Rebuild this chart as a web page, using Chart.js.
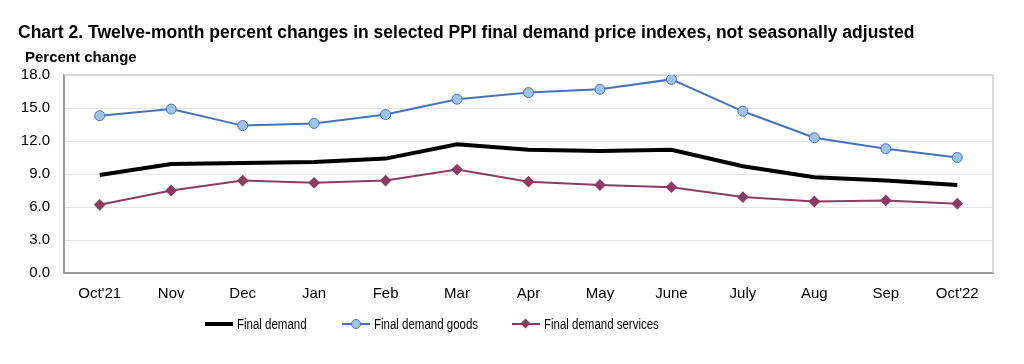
<!DOCTYPE html>
<html>
<head>
<meta charset="utf-8">
<script src="https://cdn.jsdelivr.net/npm/chart.js@4"></script>
<style>
  body { margin: 0; background: #fff; font-family: "Liberation Sans", Arial, sans-serif; color: #000; }
  #wrap { position: relative; width: 1024px; height: 364px; }
  #title { position: absolute; left: 18px; top: 22px; font-weight: bold; font-size: 17.5px; white-space: nowrap; }
  #ytitle { position: absolute; left: 25px; top: 48px; font-weight: bold; font-size: 15px; white-space: nowrap; }
  .leg { position: absolute; top: 316px; height: 16px; font-size: 14px; line-height: 16px; white-space: nowrap; }
  .leg .sample { position: absolute; left: 0; top: 8px; width: 28px; }
  .leg .mk { position: absolute; left: 9px; }
  .leg span.txt { position: absolute; left: 32px; top: 0; transform: scaleX(0.82); transform-origin: left center; }
</style>
</head>
<body>
<div id="wrap">
  <canvas id="ppiChart" width="1024" height="364"></canvas>
  <div id="title">Chart 2. Twelve-month percent changes in selected PPI final demand price indexes, not seasonally adjusted</div>
  <div id="ytitle">Percent change</div>
  <div class="leg" style="left:205px">
    <div class="sample" style="height:4px;margin-top:-2px;background:#000"></div>
    <span class="txt">Final demand</span>
  </div>
  <div class="leg" style="left:342px">
    <div class="sample" style="height:2px;margin-top:-1px;background:#4472c4"></div>
    <div class="mk" style="top:3px;width:8px;height:8px;border:1px solid #4472c4;border-radius:50%;background:#9dc3e6"></div>
    <span class="txt">Final demand goods</span>
  </div>
  <div class="leg" style="left:512px">
    <div class="sample" style="height:2px;margin-top:-1px;background:#8e3b64"></div>
    <div class="mk" style="top:4px;left:10px;width:7px;height:7px;background:#8e3b64;transform:rotate(45deg)"></div>
    <span class="txt">Final demand services</span>
  </div>
</div>
<script>
const months = ["Oct'21", "Nov", "Dec", "Jan", "Feb", "Mar", "Apr", "May", "June", "July", "Aug", "Sep", "Oct'22"];
const finalDemand = [8.9, 9.9, 10.0, 10.1, 10.4, 11.7, 11.2, 11.1, 11.2, 9.7, 8.7, 8.4, 8.0];
const finalGoods = [14.3, 14.9, 13.4, 13.6, 14.4, 15.8, 16.4, 16.7, 17.6, 14.7, 12.3, 11.3, 10.5];
const finalServices = [6.2, 7.5, 8.4, 8.2, 8.4, 9.4, 8.3, 8.0, 7.8, 6.9, 6.5, 6.6, 6.3];
const yMin = 0, yMax = 18, yStep = 3;

// light frame on top/right of the plot area
const frame = {
  id: "frame",
  beforeDatasetsDraw(chart) {
    const { ctx, chartArea: a } = chart;
    ctx.save();
    ctx.strokeStyle = "#cfcfcf";
    ctx.lineWidth = 1.5;
    ctx.beginPath();
    ctx.moveTo(a.left, a.top);
    ctx.lineTo(a.right, a.top);
    ctx.lineTo(a.right, a.bottom);
    ctx.stroke();
    ctx.restore();
  },
};

const canvas = document.getElementById("ppiChart");
const ppiChart = new Chart(canvas, {
  type: "line",
  data: {
    labels: months,
    datasets: [
      {
        label: "Final demand",
        data: finalDemand,
        borderColor: "#000",
        borderWidth: 4,
        pointRadius: 0,
        tension: 0,
      },
      {
        label: "Final demand goods",
        data: finalGoods,
        borderColor: "#4472c4",
        borderWidth: 2,
        pointStyle: "circle",
        pointRadius: 5,
        pointBackgroundColor: "#9dc3e6",
        pointBorderColor: "#4472c4",
        pointBorderWidth: 1,
      },
      {
        label: "Final demand services",
        data: finalServices,
        borderColor: "#8e3b64",
        borderWidth: 2,
        pointStyle: "rectRot",
        pointRadius: 4.5,
        pointBackgroundColor: "#8e3b64",
        pointBorderColor: "#8e3b64",
      },
    ],
  },
  options: {
    responsive: false,
    animation: false,
    events: [],
    layout: { padding: { top: 75, right: 31, left: 0, bottom: 0 } },
    plugins: { legend: { display: false }, tooltip: { enabled: false } },
    scales: {
      x: {
        offset: true,
        grid: { display: false },
        border: { color: "#9a9a9a", width: 2 },
        ticks: { color: "#000", font: { family: "Liberation Sans", size: 15 }, padding: 4, maxRotation: 0, autoSkip: false },
        afterFit(s) { s.height = 91; },
      },
      y: {
        min: yMin,
        max: yMax,
        grid: { color: "#e4e4e4", lineWidth: 1, drawTicks: false },
        border: { color: "#9a9a9a", width: 2 },
        ticks: {
          stepSize: yStep,
          color: "#000",
          font: { family: "Liberation Sans", size: 15 },
          padding: 14,
          callback: (v) => v.toFixed(1),
        },
        afterFit(s) { s.width = 64; },
      },
    },
  },
  plugins: [frame],
});
</script>
</body>
</html>
